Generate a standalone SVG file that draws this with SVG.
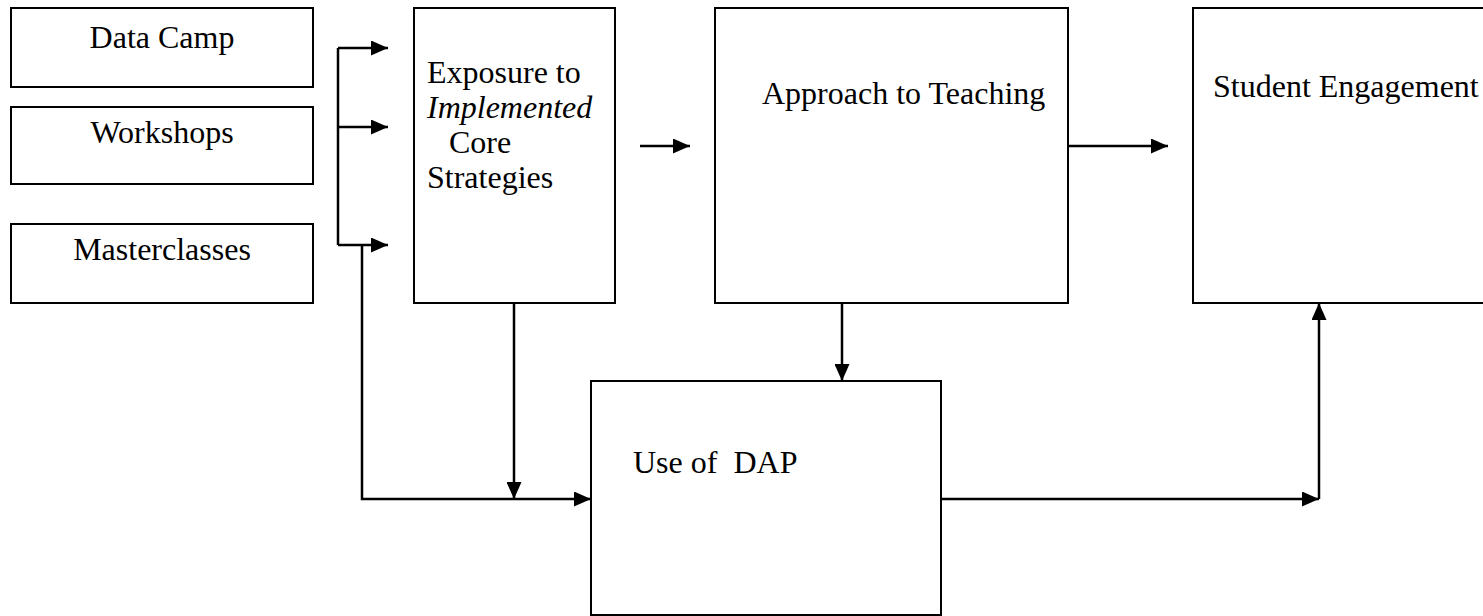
<svg xmlns="http://www.w3.org/2000/svg" width="1483" height="616" viewBox="0 0 1483 616">
<style>
.box{fill:#fff;stroke:#000;stroke-width:2}
text{font-family:'Liberation Serif','Times New Roman',serif;font-size:32px;fill:#000}
.c{fill:none;stroke:#000;stroke-width:2.5}
</style>
<defs>
<marker id="ah" viewBox="0 0 17 15" refX="17" refY="7.5" markerWidth="17" markerHeight="15" markerUnits="userSpaceOnUse" orient="auto">
<path d="M0,0 L17,7.5 L0,15 Z" fill="#000"/>
</marker>
</defs>
<rect width="1483" height="616" fill="#fff"/>
<g id="data-camp"><rect class="box" x="11" y="8" width="302" height="79"/><text x="162" y="48" text-anchor="middle">Data Camp</text></g>
<g id="workshops"><rect class="box" x="11" y="107" width="302" height="77"/><text x="162" y="143" text-anchor="middle">Workshops</text></g>
<g id="masterclasses"><rect class="box" x="11" y="224" width="302" height="79"/><text x="162" y="260" text-anchor="middle">Masterclasses</text></g>
<g id="exposure"><rect class="box" x="414" y="8" width="201" height="295"/>
<text x="427" y="83">Exposure to</text>
<text x="427" y="118" font-style="italic">Implemented</text>
<text x="449" y="153">Core</text>
<text x="427" y="188">Strategies</text></g>
<g id="approach"><rect class="box" x="715" y="8" width="353" height="295"/><text x="762" y="104">Approach to Teaching</text></g>
<g id="student"><rect class="box" x="1193" y="8" width="300" height="295"/><text x="1213" y="97">Student Engagement</text></g>
<g id="dap"><rect class="box" x="591" y="381" width="350" height="234"/><text x="633" y="473" xml:space="preserve">Use of  DAP</text></g>
<g id="connectors">
<path class="c" d="M338,48 V245"/>
<path class="c" d="M338,48 H388" marker-end="url(#ah)"/>
<path class="c" d="M338,127 H388" marker-end="url(#ah)"/>
<path class="c" d="M338,245 H388" marker-end="url(#ah)"/>
<path class="c" d="M362,245 V499 H591" marker-end="url(#ah)"/>
<path class="c" d="M514,303 V499" marker-end="url(#ah)"/>
<path class="c" d="M640,146 H690" marker-end="url(#ah)"/>
<path class="c" d="M1068,146 H1168" marker-end="url(#ah)"/>
<path class="c" d="M842,303 V381" marker-end="url(#ah)"/>
<path class="c" d="M941,499 H1319" marker-end="url(#ah)"/>
<path class="c" d="M1319,499 V303" marker-end="url(#ah)"/>
</g>
</svg>
